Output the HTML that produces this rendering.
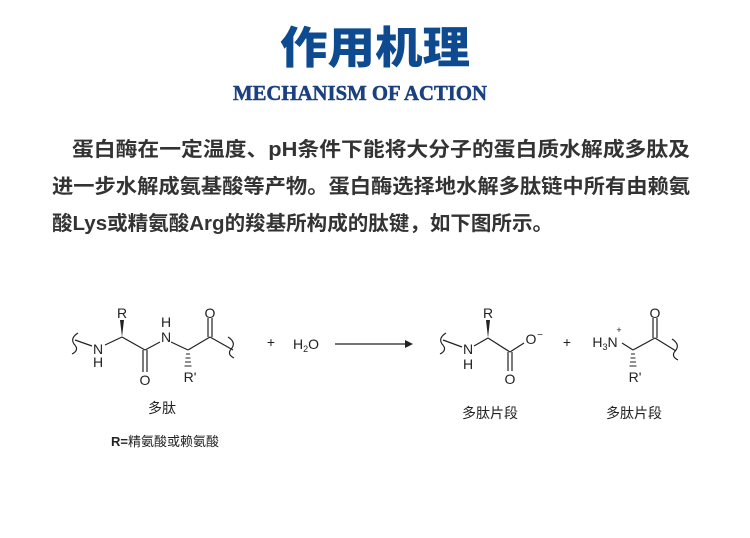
<!DOCTYPE html>
<html><head><meta charset="utf-8"><style>
html,body{margin:0;padding:0;background:#fff;width:750px;height:538px;overflow:hidden}
svg{display:block}
</style></head><body>
<svg width="750" height="538" viewBox="0 0 750 538" xmlns="http://www.w3.org/2000/svg">
<text x="375" y="63" text-anchor="middle" font-family="'Noto Sans CJK SC',sans-serif" font-weight="900" font-size="44" fill="#0d4a8f" textLength="190" lengthAdjust="spacingAndGlyphs">作用机理</text>
<text x="360" y="100" text-anchor="middle" font-family="'Liberation Serif',serif" font-weight="bold" font-size="21" fill="#1a4080" stroke="#1a4080" stroke-width="0.5" textLength="254" lengthAdjust="spacingAndGlyphs">MECHANISM OF ACTION</text>
<g font-family="'Liberation Sans','Noto Sans CJK SC',sans-serif" font-size="20" fill="#333" font-weight="bold">
<text x="72" y="156" textLength="618" lengthAdjust="spacingAndGlyphs">蛋白酶在一定温度、pH条件下能将大分子的蛋白质水解成多肽及</text>
<text x="52" y="193" textLength="638" lengthAdjust="spacingAndGlyphs">进一步水解成氨基酸等产物。蛋白酶选择地水解多肽链中所有由赖氨</text>
<text x="52" y="230" textLength="501" lengthAdjust="spacingAndGlyphs">酸Lys或精氨酸Arg的羧基所构成的肽键，如下图所示。</text>
</g>
<g stroke="#222" stroke-width="1.2" fill="none">
<path d="M78 333 Q70 338 74 344 Q80 350 72 354"/>
<line x1="75" y1="340" x2="92" y2="346"/>
<line x1="105" y1="345" x2="122" y2="337"/>
<line x1="122" y1="337" x2="145" y2="350"/>
<line x1="145" y1="350" x2="160" y2="342"/>
<line x1="143" y1="350" x2="143" y2="372"/><line x1="147" y1="350" x2="147" y2="372"/>
<line x1="171" y1="342" x2="188" y2="350"/>
<line x1="188" y1="350" x2="210" y2="337"/>
<line x1="208" y1="337" x2="208" y2="318"/><line x1="212" y1="337" x2="212" y2="318"/>
<line x1="210" y1="337" x2="233" y2="350"/>
<path d="M228 337 Q236 342 232 348 Q226 354 234 358"/>
<line x1="335" y1="344" x2="405" y2="344"/>
<path d="M446 333 Q438 338 442 344 Q448 350 440 354"/>
<line x1="443" y1="340" x2="462" y2="347"/>
<line x1="474" y1="346" x2="488" y2="338"/>
<line x1="488" y1="338" x2="510" y2="352"/>
<line x1="510" y1="352" x2="524" y2="343"/>
<line x1="508" y1="352" x2="508" y2="371"/><line x1="512" y1="352" x2="512" y2="371"/>
<line x1="622" y1="343" x2="633" y2="350"/>
<line x1="633" y1="350" x2="655" y2="338"/>
<line x1="653" y1="338" x2="653" y2="318"/><line x1="657" y1="338" x2="657" y2="318"/>
<line x1="655" y1="338" x2="676" y2="351"/>
<path d="M672 339 Q680 344 676 350 Q670 356 678 360"/>
</g>
<g fill="#222">
<polygon points="405,340 413,344 405,348"/>
<polygon points="120,320 124,320 122,337"/>
<polygon points="486,320 490,320 488,338"/>
</g>
<g stroke="#222" stroke-width="1">
<line x1="186" y1="354" x2="190" y2="354"/><line x1="185.5" y1="358" x2="190.5" y2="358"/><line x1="185" y1="362" x2="191" y2="362"/><line x1="184.5" y1="366" x2="191.5" y2="366"/>
<line x1="631" y1="354" x2="635" y2="354"/><line x1="630.5" y1="358" x2="635.5" y2="358"/><line x1="630" y1="362" x2="636" y2="362"/><line x1="629.5" y1="366" x2="636.5" y2="366"/>
</g>
<g font-family="'Liberation Sans',sans-serif" font-size="14" fill="#222" text-anchor="middle">
<text x="122" y="318">R</text>
<text x="98" y="354">N</text><text x="98" y="367">H</text>
<text x="145" y="385">O</text>
<text x="166" y="327">H</text><text x="166" y="342">N</text>
<text x="190" y="382">R'</text>
<text x="210" y="318">O</text>
<text x="271" y="347">+</text>
<text x="306" y="349">H<tspan font-size="9" dy="3">2</tspan><tspan dy="-3">O</tspan></text>
<text x="488" y="318">R</text>
<text x="468" y="354">N</text><text x="468" y="369">H</text>
<text x="510" y="384">O</text>
<text x="531" y="344">O</text><text x="540" y="338" font-size="10">−</text>
<text x="567" y="347">+</text>
<text x="605" y="347">H<tspan font-size="9" dy="3">3</tspan><tspan dy="-3">N</tspan></text>
<text x="619" y="333" font-size="9">+</text>
<text x="635" y="382">R'</text>
<text x="655" y="318">O</text>
</g>
<g font-family="'Liberation Sans','Noto Sans CJK SC',sans-serif" font-size="14" fill="#222" text-anchor="middle">
<text x="162" y="413">多肽</text>
<text x="490" y="418">多肽片段</text>
<text x="634" y="418">多肽片段</text>
<text x="165" y="446" font-size="13"><tspan font-weight="bold">R=</tspan>精氨酸或赖氨酸</text>
</g>
</svg>
</body></html>
